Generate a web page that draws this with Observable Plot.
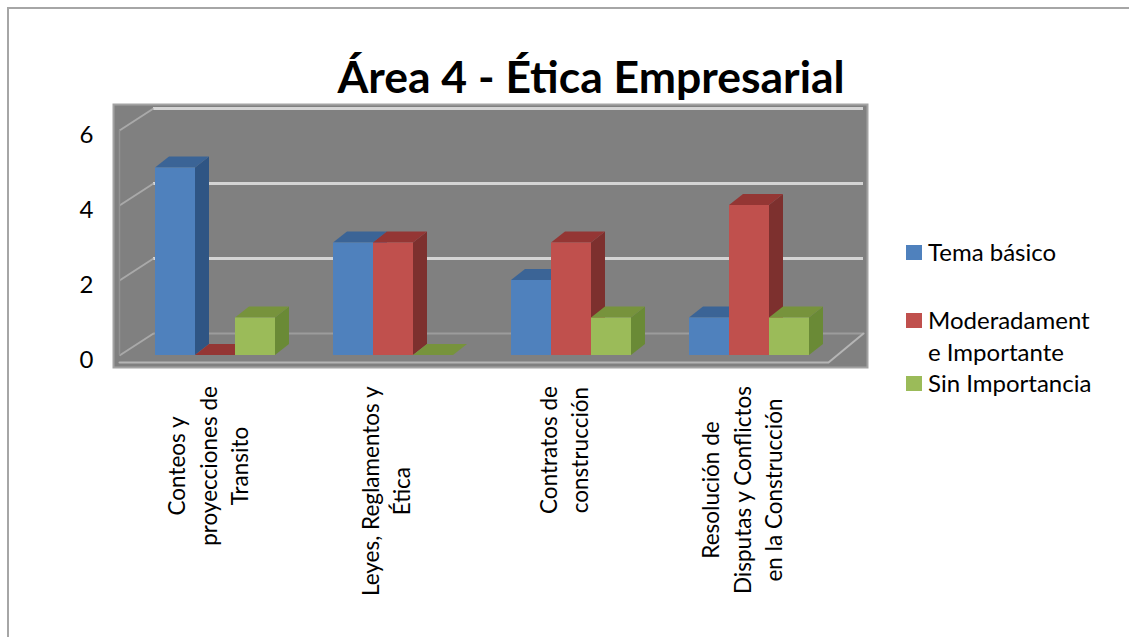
<!DOCTYPE html>
<html>
<head>
<meta charset="utf-8">
<script src="https://cdn.jsdelivr.net/npm/d3@7"></script>
<script src="https://cdn.jsdelivr.net/npm/@observablehq/plot@0.6"></script>
<style>
  body { margin: 0; background: #fff; font-family: Lato, "Open Sans", sans-serif; }
  #wrap { position: relative; width: 1129px; height: 637px; overflow: hidden; }
  #border { position: absolute; left: 7px; top: 7px; width: 1200px; height: 700px;
            border-left: 2px solid #a6a6a6; border-top: 2px solid #a6a6a6; }
  #chart { position: absolute; left: 0; top: 0; }
  #title { position: absolute; left: 0; width: 1182px; top: 54px; text-align: center;
           font-family: Lato, sans-serif; font-weight: 700; font-size: 44.5px; line-height: 1; color: #000; }
  .lg { position: absolute; left: 906px; font-size: 24px; line-height: 32px; color: #000; }
  .lg .sw { position: absolute; left: 0; top: 9px; width: 16px; height: 15px; }
  .lg .tx { position: absolute; left: 22px; top: 0; white-space: pre; }
</style>
</head>
<body>
<div id="wrap">
  <div id="border"></div>
  <div id="chart"></div>
  <div id="title">Área 4 - Ética Empresarial</div>
  <div id="legend"></div>
</div>
<script>
// ---------- data ----------
const categories = [
  "Conteos y\nproyecciones de\nTransito",
  "Leyes, Reglamentos y\nÉtica",
  "Contratos de\nconstrucción",
  "Resolución de\nDisputas y Conflictos\nen la Construcción"
];
const series = ["Tema básico", "Moderadamente Importante", "Sin Importancia"];
const temaBasico = [5, 3, 2, 1];
const moderadamente = [0, 3, 3, 4];
const sinImportancia = [1, 0, 1, 1];
const yTicks = [0, 2, 4, 6];
const legendLabels = ["Tema básico", "Moderadament\ne Importante", "Sin Importancia"];

// ---------- styles ----------
const frontColors = ["#4F81BD", "#C0504D", "#9BBB59"];
const sideColors  = ["#2F5584", "#7D302E", "#6A8A36"];
const topColors   = ["#3B6496", "#943634", "#77933C"];

// ---------- layout (pixels) ----------
const W = 880, H = 637;
const X_RANGE = [215, 749], Y_RANGE = [355, 130];
const kx = (X_RANGE[1] - X_RANGE[0]) / 3;   // px per category step
const ky = (Y_RANGE[0] - Y_RANGE[1]) / 6;   // px per value unit
const xs = Plot.scale({x: {domain: [0, 3], range: X_RANGE}});
const bw = 40 / kx;           // bar width
const bdx = 14 / kx, bdy = 11 / ky;   // bar depth
const wallDy = 22 / ky;       // back wall offset
const leftFront = xs.invert(119), leftBack = xs.invert(153);
const rightBack = xs.invert(863), rightFront = xs.invert(828);
const floorFront = -7 / ky;

const values = [temaBasico, moderadamente, sinImportancia];
const bars = [];
categories.forEach((c, i) => {
  values.forEach((arr, j) => {
    const x1 = i + (j - 1.5) * bw;
    bars.push({id: `${i}-${j}`, i, j, v: arr[i], x1, x2: x1 + bw});
  });
});
const sides = bars.flatMap(b => [
  {id: b.id, j: b.j, x: b.x2, y1: 0, y2: b.v},
  {id: b.id, j: b.j, x: b.x2 + bdx, y1: bdy, y2: b.v + bdy}
]);
const tops = bars.flatMap(b => [
  {id: b.id, j: b.j, x: b.x1,       y1: b.v,       y2: b.v},
  {id: b.id, j: b.j, x: b.x1 + bdx, y1: b.v,       y2: b.v + bdy},
  {id: b.id, j: b.j, x: b.x2,       y1: b.v,       y2: b.v + bdy},
  {id: b.id, j: b.j, x: b.x2 + bdx, y1: b.v + bdy, y2: b.v + bdy}
]);
const floorEdge = [
  {x: leftFront, y: floorFront},
  {x: rightFront, y: floorFront},
  {x: rightBack, y: wallDy}
];

const svg = Plot.plot({
  width: W, height: H,
  marginLeft: 113, marginRight: W - 867, marginTop: 104, marginBottom: H - 367,
  x: {domain: [0, 3], range: X_RANGE, axis: null},
  y: {domain: [0, 6], range: Y_RANGE, axis: null},
  color: {type: "identity"},
  style: {fontFamily: "Lato, sans-serif", background: "transparent", overflow: "visible"},
  marks: [
    Plot.frame({fill: "#808080", stroke: "#a3a3a3", strokeWidth: 2}),
    // back wall gridlines
    Plot.ruleY(yTicks, {y: d => d + wallDy, x1: leftBack, x2: rightBack,
      stroke: d => d === 0 ? "#9c9c9c" : "#d4d4d4", strokeWidth: d => d === 0 ? 2 : 3}),
    // left wall gridlines
    Plot.link(yTicks, {x1: leftFront, x2: leftBack, y1: d => d, y2: d => d + wallDy,
      stroke: "#a9a9a9", strokeWidth: 2}),
    Plot.ruleX([leftFront], {y1: 0, y2: 6, stroke: "#939393", strokeWidth: 1.5}),
    // floor front edge
    Plot.line(floorEdge, {x: "x", y: "y", stroke: "#b5b5b5", strokeWidth: 2}),
    // 3D bars
    Plot.area(sides, {x1: "x", y1: "y1", y2: "y2", z: "id", fill: d => sideColors[d.j]}),
    Plot.area(tops, {x1: "x", y1: "y1", y2: "y2", z: "id", fill: d => topColors[d.j]}),
    Plot.rect(bars, {x1: "x1", x2: "x2", y1: 0, y2: "v", fill: d => frontColors[d.j]}),
    // y tick labels
    Plot.text(yTicks, {y: d => d, frameAnchor: "left", dx: -20, dy: 5, textAnchor: "end",
      fontSize: 24, fill: "#000", text: d => String(d)}),
    // category labels
    Plot.text(categories, {x: (d, i) => i, frameAnchor: "bottom", rotate: -90,
      textAnchor: "middle", lineHeight: 1.42, fontSize: 22.5, fill: "#000",
      text: d => d})
  ]
});
document.getElementById("chart").append(svg);

// align category label blocks: top edge fixed, block centred under its group
const LABEL_TOP = 386, LABEL_SHIFT = -7;
const flatCats = categories.map(c => c.replace(/\n/g, ""));
const box = svg.getBoundingClientRect();
svg.querySelectorAll("text").forEach(t => {
  const content = (t.textContent || "").replace(/\n/g, "");
  const i = flatCats.indexOf(content);
  if (i < 0) return;
  const r = t.getBoundingClientRect();
  const dyy = LABEL_TOP - (r.top - box.top);
  const dxx = xs.apply(i) + LABEL_SHIFT - ((r.left + r.right) / 2 - box.left);
  const tr = t.getAttribute("transform") || "";
  t.setAttribute("transform", `translate(${dxx},${dyy}) ${tr}`);
});

// legend
const legendTops = [236, 304, 367];
const legend = document.getElementById("legend");
series.forEach((s, j) => {
  const div = document.createElement("div");
  div.className = "lg";
  div.style.top = legendTops[j] + "px";
  div.innerHTML = `<span class="sw" style="background:${frontColors[j]}"></span><span class="tx"></span>`;
  div.querySelector(".tx").textContent = legendLabels[j];
  legend.append(div);
});
</script>
</body>
</html>
